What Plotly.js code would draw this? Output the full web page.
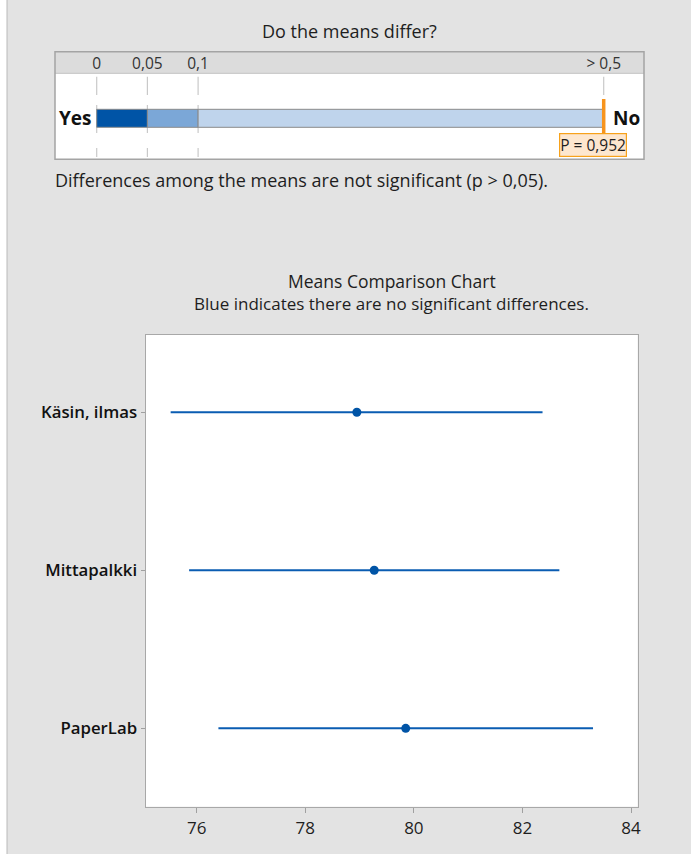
<!DOCTYPE html>
<html>
<head>
<meta charset="utf-8">
<script src="https://cdn.plot.ly/plotly-3.0.1.min.js"></script>
<style>
  html, body { margin: 0; padding: 0; background: #e3e3e3; }
  #chart { width: 691px; height: 854px; }
</style>
</head>
<body>
<div id="chart"></div>
<script>
// Groups compared (top to bottom) with their means and 95% confidence intervals
const groups = ['Käsin, ilmas', 'Mittapalkki', 'PaperLab'];
const means = [78.95, 79.27, 79.85];
const ciLow = [75.52, 75.86, 76.40];
const ciHigh = [82.37, 82.68, 83.30];
const xTicks = [76, 78, 80, 82, 84];

// p-value summary bar
const pBandEdges = [0, 0.05, 0.1, 0.5];
const pTickVals = [0, 0.05, 0.1, 0.5];
const pTickText = ['0', '0,05', '0,1', '> 0,5'];
const pValue = 0.952;
const pLabel = 'P = 0,952';
const verdict = 'Differences among the means are not significant (p > 0,05).';

const W = 691, H = 854;
const px = v => v / W;           // horizontal pixel -> paper fraction
const py = v => 1 - v / H;       // vertical pixel -> paper fraction

const FONT = '"Open Sans", "Noto Sans", sans-serif';
const TEXT = '#1e1e1e';
const BLUE = '#0054a6';

const pMax = pBandEdges[pBandEdges.length - 1];
const pShown = Math.min(pValue, pMax);

// Bar segments of the significance scale
const bandBase = pBandEdges.slice(0, -1);
const bandLen = pBandEdges.slice(1).map((e, i) => e - pBandEdges[i]);

const pBar = {
  type: 'bar', orientation: 'h',
  xaxis: 'x2', yaxis: 'y2',
  base: bandBase, x: bandLen, y: bandBase.map(() => 0),
  width: 1,
  marker: { color: ['#0054a6', '#7ba7d7', '#bfd4ec'], line: { color: '#8a8a8a', width: 1 } },
  hoverinfo: 'skip', showlegend: false
};

const meansTrace = {
  type: 'scatter', mode: 'markers',
  x: means, y: groups,
  marker: { color: BLUE, size: 9 },
  error_x: {
    type: 'data', symmetric: false,
    array: ciHigh.map((h, i) => h - means[i]),
    arrayminus: ciLow.map((l, i) => means[i] - l),
    width: 0, thickness: 2, color: '#0a5cb2'
  },
  showlegend: false, hoverinfo: 'x+y'
};

// Dashed grid segments behind the significance scale (y2 units)
const gridSegs = [[2.31, 1.29], [0.74, -0.82], [-1.65, -2.15]];
const shapes = [];
// white margin strip on the left edge
shapes.push({ type: 'rect', xref: 'paper', yref: 'paper', x0: 0, x1: px(6.5), y0: 0, y1: 1,
  fillcolor: '#ffffff', line: { width: 0 }, layer: 'below' });
shapes.push({ type: 'line', xref: 'paper', yref: 'paper', x0: px(7.2), x1: px(7.2), y0: 0, y1: 1,
  line: { color: '#cdcdcd', width: 1.5 }, layer: 'below' });
// header band of the scale box
shapes.push({ type: 'rect', xref: 'x2 domain', yref: 'paper', x0: 0, x1: 1, y0: py(73.3), y1: py(51.7),
  fillcolor: '#dcdcdc', line: { width: 0 }, layer: 'below' });
pTickVals.forEach(v => {
  gridSegs.forEach(s => {
    shapes.push({ type: 'line', xref: 'x2', yref: 'y2', x0: v, x1: v, y0: s[0], y1: s[1],
      line: { color: '#c9c9c9', width: 1.2 }, layer: 'below' });
  });
});
// p-value marker
shapes.push({ type: 'line', xref: 'x2', yref: 'y2', x0: pShown, x1: pShown, y0: 1.07, y1: -1.02,
  line: { color: '#f7941d', width: 3.5 } });
// outline of the scale box
shapes.push({ type: 'line', xref: 'x2 domain', yref: 'paper', x0: 0, x1: 1, y0: py(73.3), y1: py(73.3),
  line: { color: '#c4c4c4', width: 1 } });
shapes.push({ type: 'rect', xref: 'x2 domain', yref: 'paper', x0: 0, x1: 1, y0: py(159.3), y1: py(51.7),
  line: { color: '#a4a4a4', width: 1.5 }, fillcolor: 'rgba(0,0,0,0)' });

const annotations = [
  { text: 'Do the means differ?', xref: 'paper', yref: 'paper', x: px(349.5), y: py(31.5),
    xanchor: 'center', yanchor: 'middle', showarrow: false, font: { family: FONT, size: 18, color: TEXT } },
  { text: 'Yes', xref: 'x2', yref: 'y2', x: pBandEdges[0], y: 0, xanchor: 'right', yanchor: 'middle',
    xshift: -3, showarrow: false, font: { family: FONT, size: 19, color: '#111', weight: 700 } },
  { text: 'No', xref: 'x2', yref: 'y2', x: pMax, y: 0, xanchor: 'left', yanchor: 'middle',
    xshift: 7, showarrow: false, font: { family: FONT, size: 19, color: '#111', weight: 700 } },
  { text: pLabel, xref: 'x2', yref: 'y2', x: pShown, y: -1.46, xanchor: 'center', yanchor: 'middle',
    xshift: -10.5, showarrow: false, bgcolor: '#fde7cf', bordercolor: '#f7a21b', borderwidth: 1.2, borderpad: 0,
    font: { family: FONT, size: 15.5, color: TEXT } },
  { text: verdict, xref: 'paper', yref: 'paper', x: px(53), y: py(180),
    xanchor: 'left', yanchor: 'middle', showarrow: false, font: { family: FONT, size: 18, color: TEXT } },
  { text: 'Means Comparison Chart', xref: 'x domain', yref: 'paper', x: 0.5, y: py(281),
    xanchor: 'center', yanchor: 'middle', showarrow: false, font: { family: FONT, size: 17.5, color: TEXT } },
  { text: 'Blue indicates there are no significant differences.', xref: 'x domain', yref: 'paper', x: 0.5, y: py(304),
    xanchor: 'center', yanchor: 'middle', showarrow: false, font: { family: FONT, size: 17, color: TEXT } }
];

const layout = {
  width: W, height: H,
  margin: { l: 0, r: 0, t: 0, b: 0, pad: 0 },
  paper_bgcolor: '#e3e3e3',
  plot_bgcolor: '#ffffff',
  showlegend: false,
  font: { family: FONT, color: TEXT },
  xaxis: {
    domain: [px(146), px(637.7)], anchor: 'y',
    range: [75.066, 84.123],
    tickvals: xTicks, ticks: 'outside', ticklen: 5, tickcolor: '#a0a0a0', tickwidth: 1,
    showline: true, mirror: true, linecolor: '#a8a8a8', linewidth: 1.5,
    showgrid: false, zeroline: false,
    tickfont: { family: FONT, size: 17, color: TEXT }
  },
  yaxis: {
    domain: [py(806.7), py(335)], anchor: 'x',
    type: 'category', categoryorder: 'array', categoryarray: groups.slice().reverse(),
    range: [-0.496, 2.489],
    ticks: 'outside', ticklen: 4, tickcolor: '#a0a0a0',
    showline: true, mirror: true, linecolor: '#a8a8a8', linewidth: 1.5,
    showgrid: false, zeroline: false,
    tickfont: { family: FONT, size: 16.8, color: '#111', weight: 600 }
  },
  xaxis2: {
    domain: [px(55), px(644)], anchor: 'y2', side: 'top',
    range: [-0.04112, 0.53974],
    tickvals: pTickVals, ticktext: pTickText, ticks: '',
    showline: false, showgrid: false, zeroline: false,
    tickfont: { family: FONT, size: 15.5, color: '#333' }
  },
  yaxis2: {
    domain: [py(159.3), py(73.3)], anchor: 'x2',
    range: [-2.278, 2.5], visible: false, fixedrange: true
  },
  shapes: shapes,
  annotations: annotations
};

Plotly.newPlot('chart', [pBar, meansTrace], layout, { displayModeBar: false, staticPlot: true });
</script>
</body>
</html>
